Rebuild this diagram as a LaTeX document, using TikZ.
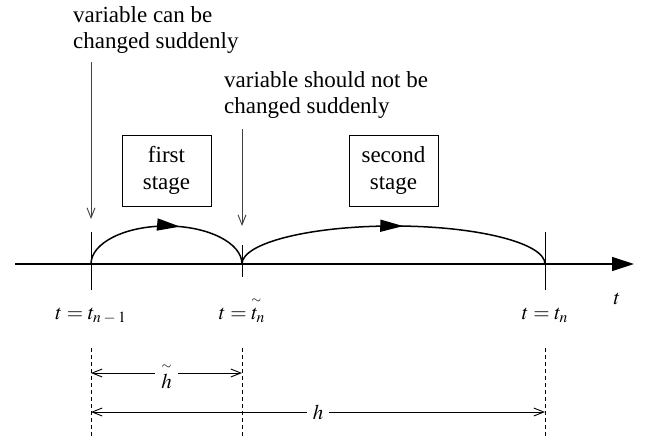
\documentclass[tikz,border=0pt]{standalone}
\usepackage{mathptmx}
\usepackage[no-math]{fontspec}
\newfontfamily\tnr{Liberation Serif}
\usetikzlibrary{arrows.meta,decorations.markings}
\newcommand{\hightildeord}[1]{\rlap{$\mathop{\phantom{#1}}\limits^{\scriptscriptstyle\sim}$}#1}
\begin{document}
\begin{tikzpicture}[x=1pt,y=-1pt,
  txt/.style={font=\tnr\fontsize{23}{26}\selectfont, inner sep=0pt, align=left, anchor=north west},
  lab/.style={font=\fontsize{21}{26}\selectfont, inner sep=0pt},
  stagebox/.style={draw, line width=1pt, minimum width=89pt, minimum height=71pt, align=center, font=\tnr\fontsize{23}{27}\selectfont, inner sep=0pt},
  tickline/.style={line width=1pt},
  axisline/.style={line width=1.3pt, -{Triangle[length=22pt,width=14pt]}},
  downarrow/.style={line width=0.9pt, black!75, -{Straight Barb[length=10pt,width=8pt]}},
  dimline/.style={line width=0.9pt, {Straight Barb[length=10pt,width=8pt]}-{Straight Barb[length=10pt,width=8pt]}},
  guide/.style={line width=0.9pt, dash pattern=on 4pt off 3pt},
  stagearc/.style={line width=1.5pt, postaction={decorate}, decoration={markings, mark=at position #1 with {\arrow{Triangle[length=23pt,width=12pt]}}}},
]
\useasboundingbox (0,0) rectangle (646,439);

% axis
\coordinate (axL) at (15,264);
\coordinate (axR) at (634,264);
\draw[axisline] (axL) -- (axR);

% ticks
\coordinate (A) at (91,264);
\coordinate (B) at (242,264);
\coordinate (C) at (545,264);
\coordinate (Atop) at (91,232);
\coordinate (Abot) at (91,290);
\coordinate (Btop) at (242,245);
\coordinate (Bbot) at (242,277);
\coordinate (Ctop) at (545,232);
\coordinate (Cbot) at (545,290);
\draw[tickline] (Atop) -- (Abot);
\draw[tickline] (Btop) -- (Bbot);
\draw[tickline] (Ctop) -- (Cbot);

% arcs
\coordinate (P1) at (166.5,226);
\coordinate (P2) at (393.5,226);
\draw[stagearc=0.574] (A) .. controls +(0,-21) and +(-41.7,0) .. (P1)
      .. controls +(41.7,0) and +(0,-21) .. (B);
\draw[stagearc=0.53] (B) .. controls +(0,-21) and +(-83.6,0) .. (P2)
      .. controls +(83.6,0) and +(0,-21) .. (C);

% boxes
\node[stagebox] (s1) at (166.5,170.5) {first\\stage};
\node[stagebox] (s2) at (393.5,170.5) {second\\stage};

% annotations
\node[txt] (n1) at (73,6) {variable can be\\changed suddenly};
\node[txt] (n2) at (224,71) {variable should not be\\changed suddenly};
\coordinate (d1s) at (91,62);
\coordinate (d1e) at (91,219);
\coordinate (d2s) at (242,129);
\coordinate (d2e) at (242,226);
\draw[downarrow] (d1s) -- (d1e);
\draw[downarrow] (d2s) -- (d2e);

% labels
\node[lab, anchor=base] (l1) at (91,319) {$t = t_{n\mskip3mu-\mskip3mu1}$};
\node[lab, anchor=base] (l2) at (242,319) {$t = \hightildeord{t}_n$};
\node[lab, anchor=base] (l3) at (545,319) {$t = t_n$};
\node[lab] (lt) at (617,299) {$t$};

% guides
\coordinate (g1a) at (91,348);
\coordinate (g1b) at (91,439);
\coordinate (g2a) at (242,348);
\coordinate (g2b) at (242,439);
\coordinate (g3a) at (545,348);
\coordinate (g3b) at (545,439);
\draw[guide] (g1a) -- (g1b);
\draw[guide] (g2a) -- (g2b);
\draw[guide] (g3a) -- (g3b);

% dimensions
\coordinate (h1a) at (91,373);
\coordinate (h1b) at (242,373);
\coordinate (h2a) at (91,412);
\coordinate (h2b) at (545,412);
\draw[dimline] (h1a) -- node[lab, fill=white, inner xsep=6pt, inner ysep=1pt, yshift=-3pt] (ht) {$\hightildeord{h}$} (h1b);
\draw[dimline] (h2a) -- node[lab, fill=white, inner xsep=6pt, inner ysep=1pt] (hh) {$h$} (h2b);
\end{tikzpicture}
\end{document}
